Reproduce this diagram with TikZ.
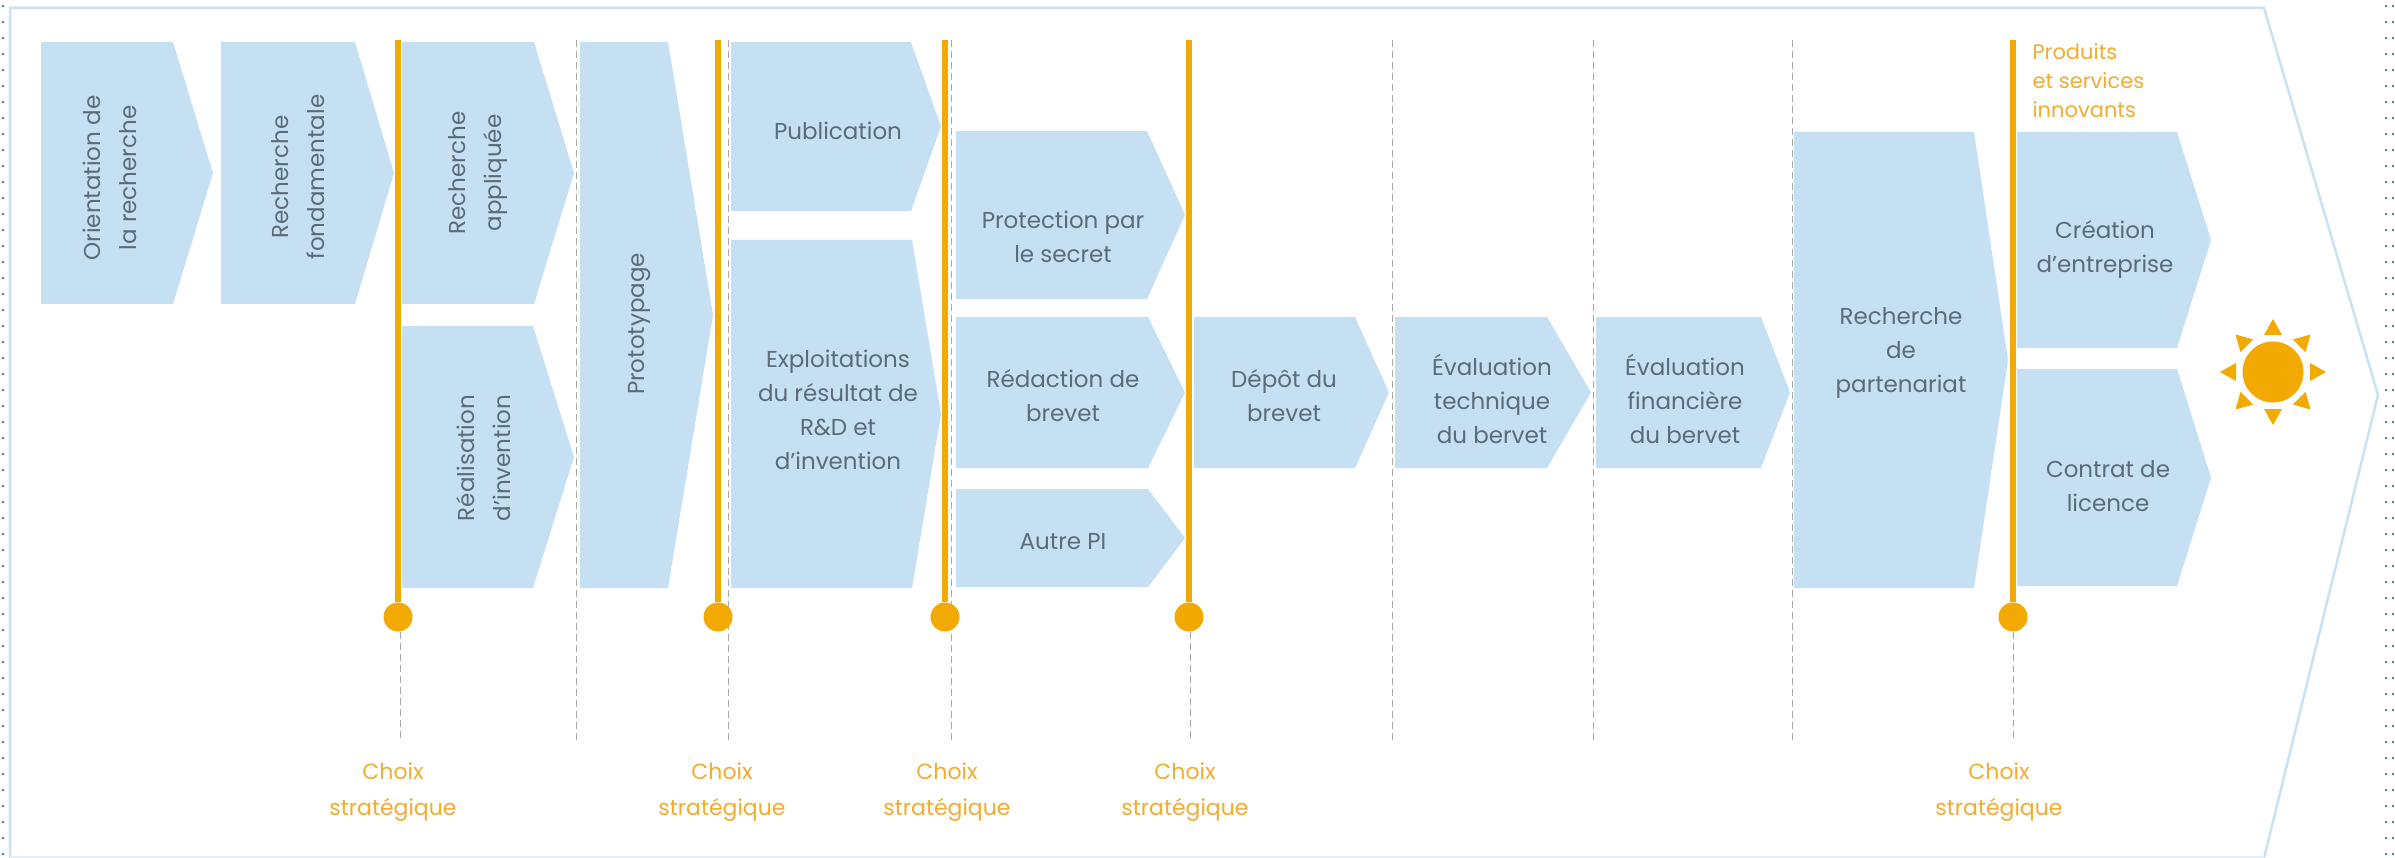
\documentclass[tikz,border=0pt]{standalone}
\usepackage{fontspec}
\setmainfont{Poppins}
\definecolor{boxblue}{HTML}{C5E0F3}
\definecolor{frameblue}{HTML}{C9E2F2}
\definecolor{stratline}{HTML}{F2A900}
\definecolor{stratlabel}{HTML}{F2AC2E}
\definecolor{boxtext}{HTML}{5C6B78}
\definecolor{dashgrey}{HTML}{A8A8A8}
\definecolor{dotblue}{HTML}{4A7FB5}
\tikzset{
  boxshape/.style={fill=boxblue},
  boxlabel/.style={text=boxtext,align=center,font=\fontsize{23}{34}\selectfont},
  sidelabel/.style={boxlabel,rotate=90,font=\fontsize{23}{36}\selectfont},
  stratlabeltext/.style={text=stratlabel,align=center,font=\fontsize{22}{36}\selectfont},
  stratbar/.style={draw=stratline,line width=6pt},
  stratdot/.style={circle,fill=stratline,minimum size=29pt,inner sep=0pt},
  guide/.style={draw=dashgrey,line width=1pt,dash pattern=on 7pt off 4pt},
  sunray/.style={fill=stratline},
}
% x-left, x-shoulder, x-tip, y-top, y-bottom
\newcommand{\pentagon}[5]{\path[boxshape] (#1,#4) -- (#2,#4) -- (#3,{(#4+#5)/2}) -- (#2,#5) -- (#1,#5) -- cycle;}
\begin{document}
\begin{tikzpicture}[x=1pt,y=-1pt]
\useasboundingbox (0,0) rectangle (2395,858);
\fill[white] (0,0) rectangle (2395,858);
% dotted margins
\foreach \yy in {5,21,...,858}{
  \fill[dotblue] (2,\yy) rectangle (4,\yy+2);
  \fill[dotblue] (2385,\yy) rectangle (2387,\yy+2);
  \fill[dotblue] (2392,\yy) rectangle (2394,\yy+2);
}
% frame
\draw[frameblue,line width=2.5pt] (10,858) -- (10,8) -- (2264,8) -- (2378,395) -- (2264,858);
\draw[frameblue!50,line width=2pt] (10,857) -- (2264,857);
% guides
\foreach \n/\xx in {g1/576,g2/728,g3/951,g4/1392,g5/1593,g6/1792}{
  \coordinate (\n t) at (\xx,40);
  \coordinate (\n b) at (\xx,740);
  \draw[guide] (\n t) -- (\n b);
}
% boxes
\pentagon{41}{173}{213}{42}{304}
\pentagon{221}{355}{394}{42}{304}
\pentagon{402}{534}{574}{42}{304}
\pentagon{402}{533}{574}{326}{588}
\pentagon{580}{668}{713}{42}{588}
\pentagon{731}{911}{941}{42}{211}
\pentagon{731}{912}{941}{240}{588}
\pentagon{956}{1147}{1185}{131}{299}
\pentagon{956}{1148}{1185}{317}{468}
\pentagon{956}{1148}{1185}{489}{587}
\pentagon{1194}{1355}{1389}{317}{468}
\pentagon{1395}{1547}{1591}{317}{468}
\pentagon{1596}{1761}{1790}{317}{468}
\pentagon{1794}{1974}{2008}{132}{588}
\pentagon{2017}{2177}{2211}{132}{348}
\pentagon{2017}{2177}{2211}{369}{586}
% box labels
\node[sidelabel] (orient) at (110,178) {Orientation de\\la recherche};
\node[sidelabel] (fonda) at (298,177) {Recherche\\fondamentale};
\node[sidelabel] (appli) at (478,173) {Recherche\\appliquée};
\node[sidelabel] (real) at (484,458) {Réalisation\\d'invention};
\node[sidelabel] (proto) at (640,324) {Prototypage};
\node[boxlabel] (publi) at (838,131) {Publication};
\node[boxlabel] (exploit) at (838,410) {Exploitations\\du résultat de\\R\&D et\\d'invention};
\node[boxlabel] (secret) at (1063,237) {Protection par\\le secret};
\node[boxlabel] (redac) at (1063,396) {Rédaction de\\brevet};
\node[boxlabel] (autre) at (1063,542) {Autre PI};
\node[boxlabel] (depot) at (1284,396) {Dépôt du\\brevet};
\node[boxlabel] (evalt) at (1492,399) {Évaluation\\technique\\du bervet};
\node[boxlabel] (evalf) at (1685,399) {Évaluation\\financière\\du bervet};
\node[boxlabel] (parten) at (1901,353) {Recherche\\de\\partenariat};
\node[boxlabel] (creat) at (2105,249) {Création\\d'entreprise};
\node[boxlabel] (contrat) at (2108,486) {Contrat de\\licence};
% strategic bars
\foreach \n/\xx/\gx/\lx in {s1/398/400/393,s2/718/728/722,s3/945/951/947,s4/1189/1190/1185,s5/2013/2013/1999}{
  \node[stratdot] (\n d) at (\xx,617) {};
  \coordinate (\n t) at (\xx,40);
  \draw[stratbar] (\n t) -- (\n d);
  \node[stratlabeltext] (\n l) at (\lx,792) {Choix\\stratégique};
}
% dashes below the dots where no full guide exists
\foreach \n/\xx in {s1/400,s4/1190,s5/2013}{
  \coordinate (\n a) at (\xx,632);
  \coordinate (\n e) at (\xx,740);
  \draw[guide] (\n a) -- (\n e);
}
\node[anchor=west,text=stratlabel,align=left,font=\fontsize{21}{29}\selectfont] (produits) at (2029,81) {Produits\\et services\\innovants};
% sun
\node[circle,fill=stratline,minimum size=61pt,inner sep=0pt] (sun) at (2273,372) {};
\foreach \a in {0,45,...,315}{
  \path[sunray,shift={(2273,372)},rotate=\a] (37,-9) -- (53,0) -- (37,9) -- cycle;
}
\end{tikzpicture}
\end{document}
